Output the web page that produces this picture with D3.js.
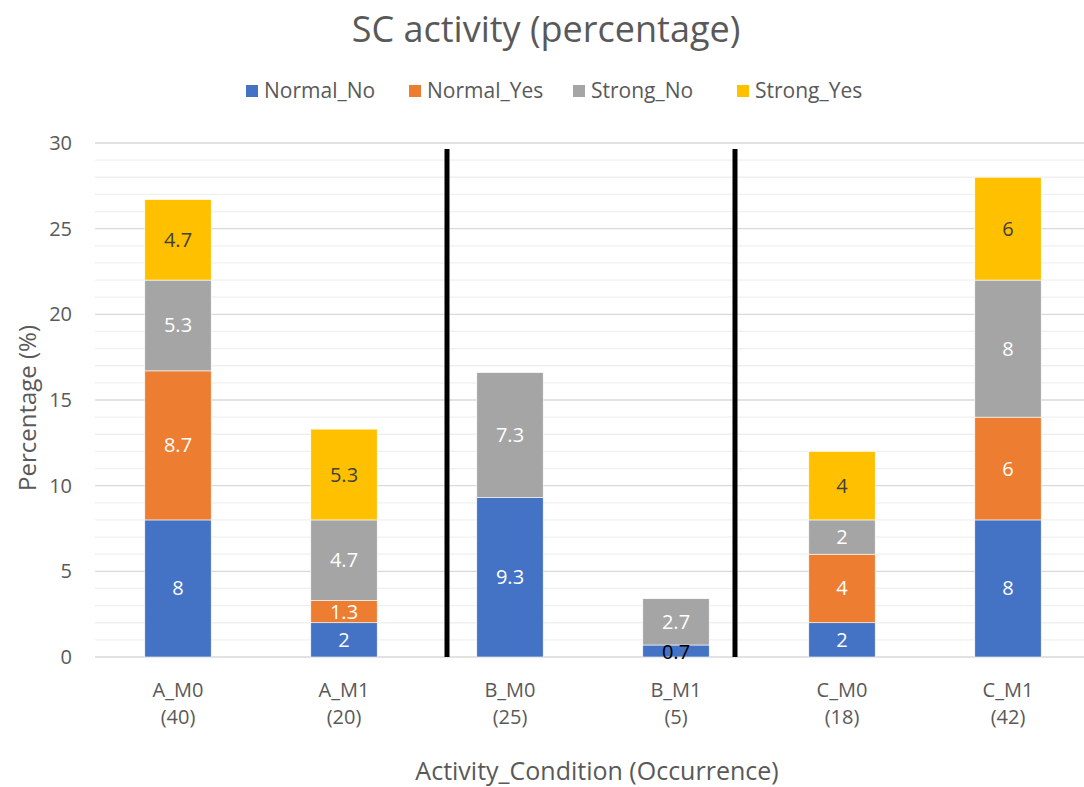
<!DOCTYPE html>
<html lang="en">
<head>
    <script src="https://d3js.org/d3.v7.min.js"></script>
</head>
<body style="margin:0;background:#fff">
    <style>
        svg text {
            font-family: "Open Sans", "Noto Sans", sans-serif;
            fill: #595959;
        }
    </style>
    <script>
        // chart data
        let categories = ["A_M0", "A_M1", "B_M0", "B_M1", "C_M0", "C_M1"];
        let occurrences = ["(40)", "(20)", "(25)", "(5)", "(18)", "(42)"];
        let seriesNames = ["Normal_No", "Normal_Yes", "Strong_No", "Strong_Yes"];
        let normalNo = [8, 2, 9.3, 0.7, 2, 8];
        let normalYes = [8.7, 1.3, 0, 0, 4, 6];
        let strongNo = [5.3, 4.7, 7.3, 2.7, 2, 8];
        let strongYes = [4.7, 5.3, 0, 0, 4, 6];
        let yTicks = [0, 5, 10, 15, 20, 25, 30];
        let colors = ["#4472c4", "#ed7d31", "#a5a5a5", "#ffc000"];

        let width = 1084, height = 787;
        let margin = {top: 143, right: 0, bottom: 130, left: 95};

        let svg = d3.select("body").append("svg")
            .attr("width", width)
            .attr("height", height);

        let x = d3.scaleBand()
            .domain(categories)
            .range([margin.left, 1091])
            .paddingInner(0.6)
            .paddingOuter(0.3);

        let y = d3.scaleLinear()
            .domain([0, 30])
            .range([657, margin.top]);

        // minor + major gridlines
        svg.append("g").selectAll("line")
            .data(d3.range(0, 31, 1).filter(v => v % 5 != 0))
            .enter().append("line")
            .attr("x1", margin.left).attr("x2", width)
            .attr("y1", d => y(d)).attr("y2", d => y(d))
            .attr("stroke", "#f0f0f0").attr("stroke-width", 1.3);

        svg.append("g").selectAll("line")
            .data(yTicks)
            .enter().append("line")
            .attr("x1", margin.left).attr("x2", width)
            .attr("y1", d => y(d)).attr("y2", d => y(d))
            .attr("stroke", "#d9d9d9").attr("stroke-width", 1.3);

        // y tick labels
        svg.append("g").selectAll("text")
            .data(yTicks)
            .enter().append("text")
            .attr("x", 72)
            .attr("y", d => y(d))
            .attr("dy", "0.35em")
            .attr("text-anchor", "end")
            .style("font-size", "20px")
            .text(d => d);

        // stacking
        let rows = categories.map((c, i) => ({
            cat: c,
            Normal_No: normalNo[i],
            Normal_Yes: normalYes[i],
            Strong_No: strongNo[i],
            Strong_Yes: strongYes[i]
        }));
        let stacked = d3.stack().keys(seriesNames)(rows);

        let layer = svg.append("g").selectAll("g")
            .data(stacked)
            .enter().append("g")
            .attr("fill", (d, i) => colors[i]);

        layer.selectAll("rect")
            .data(d => d.filter(p => p[1] - p[0] > 0))
            .enter().append("rect")
            .attr("x", d => x(d.data.cat))
            .attr("width", x.bandwidth())
            .attr("y", d => y(d[1]))
            .attr("height", d => y(d[0]) - y(d[1]))
            .attr("stroke", "#fff")
            .attr("stroke-width", 0.6);

        // value labels
        stacked.forEach((s, si) => {
            s.forEach(p => {
                let v = p[1] - p[0];
                if (v <= 0) return;
                let small = v < 1;
                svg.append("text")
                    .attr("x", x(p.data.cat) + x.bandwidth() / 2)
                    .attr("y", small ? y(p[0]) - 5 : y((p[0] + p[1]) / 2))
                    .attr("dy", "0.35em")
                    .attr("text-anchor", "middle")
                    .style("font-size", "20px")
                    .style("fill", small ? "#000" : (si == 3 ? "#404040" : "#fff"))
                    .text(Math.round(v * 10) / 10);
            });
        });

        // separator lines (drawn by hand in the original)
        [447, 735].forEach(px => {
            svg.append("line")
                .attr("x1", px).attr("x2", px)
                .attr("y1", y(29.65)).attr("y2", y(0))
                .attr("stroke", "#000")
                .attr("stroke-width", 5);
        });

        // category labels
        let xl = svg.append("g").selectAll("text")
            .data(categories)
            .enter().append("text")
            .attr("x", d => x(d) + x.bandwidth() / 2)
            .attr("y", 697)
            .attr("text-anchor", "middle")
            .style("font-size", "20px");
        xl.append("tspan").text(d => d);
        xl.append("tspan")
            .attr("x", d => x(d) + x.bandwidth() / 2)
            .attr("dy", 27)
            .text((d, i) => occurrences[i]);

        // titles
        svg.append("text")
            .attr("x", 546).attr("y", 42)
            .attr("text-anchor", "middle")
            .style("font-size", "36px")
            .text("SC activity (percentage)");

        svg.append("text")
            .attr("x", 597).attr("y", 780)
            .attr("text-anchor", "middle")
            .style("font-size", "25px")
            .text("Activity_Condition (Occurrence)");

        svg.append("text")
            .attr("transform", "translate(36,408) rotate(-90)")
            .attr("text-anchor", "middle")
            .style("font-size", "24px")
            .text("Percentage (%)");

        // legend
        let legendX = [246, 409, 573, 737];
        let legend = svg.append("g").selectAll("g")
            .data(seriesNames)
            .enter().append("g")
            .attr("transform", (d, i) => "translate(" + legendX[i] + ",91)");
        legend.append("rect")
            .attr("y", -6).attr("width", 12).attr("height", 12)
            .attr("fill", (d, i) => colors[i]);
        legend.append("text")
            .attr("x", 18)
            .attr("dy", "0.35em")
            .style("font-size", "21px")
            .text(d => d);
    </script>
</body>
</html>
